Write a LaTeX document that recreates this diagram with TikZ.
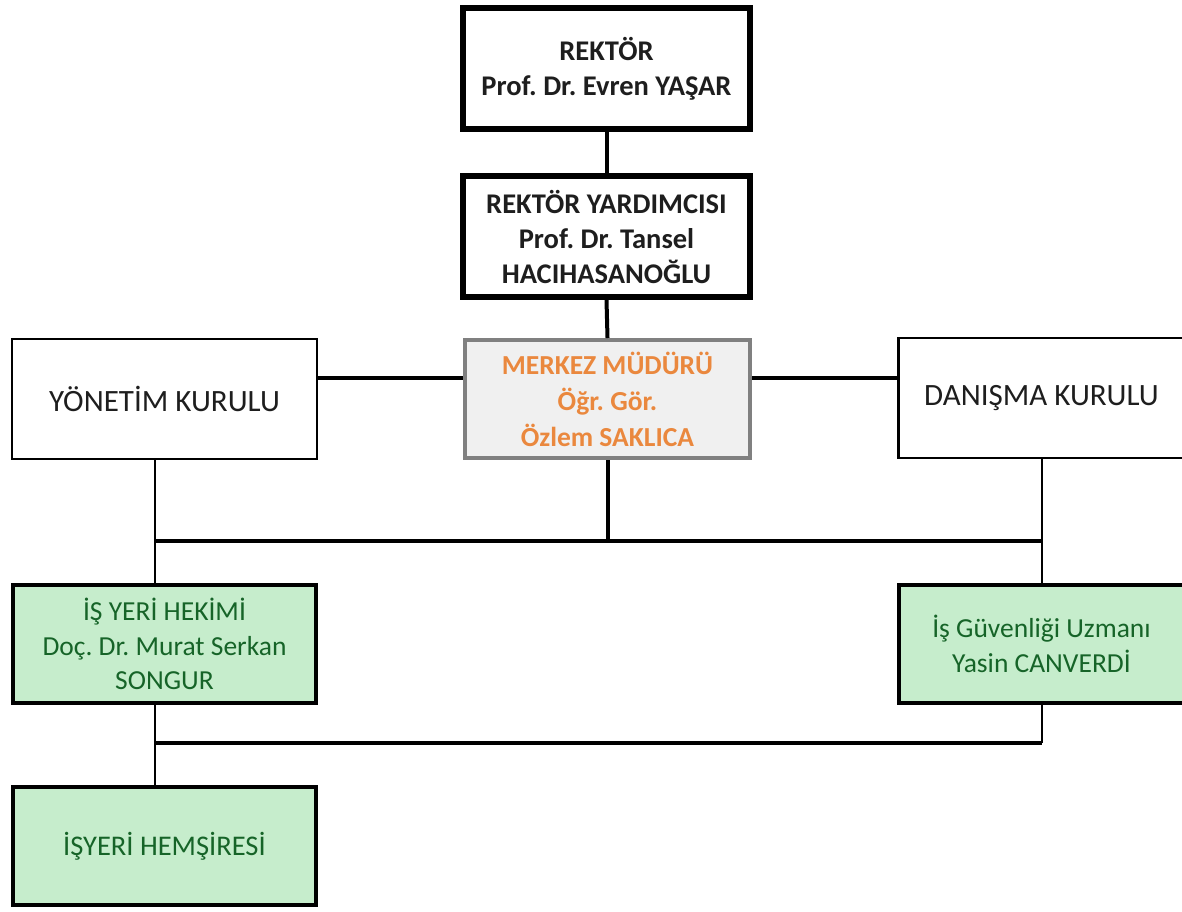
\documentclass[tikz,border=0pt]{standalone}
\usepackage{fontspec}
\setmainfont{Carlito}
\frenchspacing
\definecolor{mudurturuncu}{RGB}{234,136,62}
\definecolor{kutugri}{RGB}{240,240,240}
\definecolor{cercevegri}{RGB}{128,128,128}
\definecolor{yesilzemin}{RGB}{198,237,204}
\definecolor{yesilyazi}{RGB}{22,100,40}
\definecolor{koyuyazi}{RGB}{30,30,30}

\begin{document}
\begin{tikzpicture}[x=1pt,y=-1pt,
    yonetici/.style={draw=black,line width=6pt,fill=white,minimum width=287pt,minimum height=121pt,
        inner sep=0pt,align=center,text=koyuyazi,font=\fontsize{28.5}{35}\selectfont\bfseries},
    mudur/.style={draw=cercevegri,line width=4pt,fill=kutugri,minimum width=285pt,minimum height=118pt,
        inner sep=0pt,align=center,text=mudurturuncu,font=\fontsize{27.5}{36}\selectfont\bfseries},
    kurul/.style={draw=black,line width=2.5pt,fill=white,minimum width=305pt,minimum height=120pt,
        inner sep=0pt,align=center,text=koyuyazi,font=\fontsize{31}{36}\selectfont},
    birim/.style={draw=black,line width=3.5pt,fill=yesilzemin,minimum width=303pt,minimum height=118pt,
        inner sep=0pt,align=center,text=yesilyazi,font=\fontsize{27.5}{34.5}\selectfont},
    kalin/.style={line width=4pt},
    ince/.style={line width=2pt}
]
            \useasboundingbox (0,0) rectangle (1182,911);
            \clip (0,0) rectangle (1182,911);

            \node[yonetici] (rektor) at (606.5,68.5) {REKTÖR\\Prof. Dr. Evren YAŞAR};
            \node[yonetici] (yardimci) at (606.5,236.5) {REKTÖR YARDIMCISI\\Prof. Dr. Tansel\\HACIHASANOĞLU};
            \node[mudur] (mudur) at (607.5,399) {MERKEZ MÜDÜRÜ\\Öğr. Gör.\\Özlem SAKLICA};
            \node[kurul] (yonetim) at (164.5,399) {YÖNETİM KURULU};
            \node[kurul,minimum width=286.5pt] (danisma) at (1041.5,398) {DANIŞMA KURULU};
            \node[birim] (hekim) at (164.5,644) {İŞ YERİ HEKİMİ\\Doç. Dr. Murat Serkan\\SONGUR};
            \node[birim,minimum width=285.5pt] (uzman) at (1041.5,644) {İş Güvenliği Uzmanı\\Yasin CANVERDİ};
            \node[birim,font=\fontsize{28.5}{35}\selectfont] (hemsire) at (164.5,846) {İŞYERİ HEMŞİRESİ};

            \coordinate (bus1sol) at (155,541);
            \coordinate (bus1sag) at (1041.5,541);
            \coordinate (bus2sol) at (155,743);
            \coordinate (bus2sag) at (1041.5,743);

            \draw[kalin] (rektor.south) -- (yardimci.north);
            \draw[kalin] (yardimci.south) -- (mudur.north);
            \draw[kalin] ([yshift=21pt]yonetim.east) -- ([yshift=21pt]mudur.west);
            \draw[kalin] ([yshift=21pt]mudur.east) -- ([yshift=20pt]danisma.west);
            \draw[kalin] (mudur.south) -- (mudur.south |- bus1sol);
            \draw[kalin] (bus1sol) -- (bus1sag);
            \draw[ince] (yonetim.south -| bus1sol) -- (hekim.north -| bus1sol);
            \draw[ince] (danisma.south) -- (uzman.north);
            \draw[ince] (hekim.south -| bus2sol) -- (hemsire.north -| bus2sol);
            \draw[ince] (uzman.south) -- (bus2sag);
            \draw[kalin] (bus2sol) -- (bus2sag);
        \end{tikzpicture}
\end{document}
